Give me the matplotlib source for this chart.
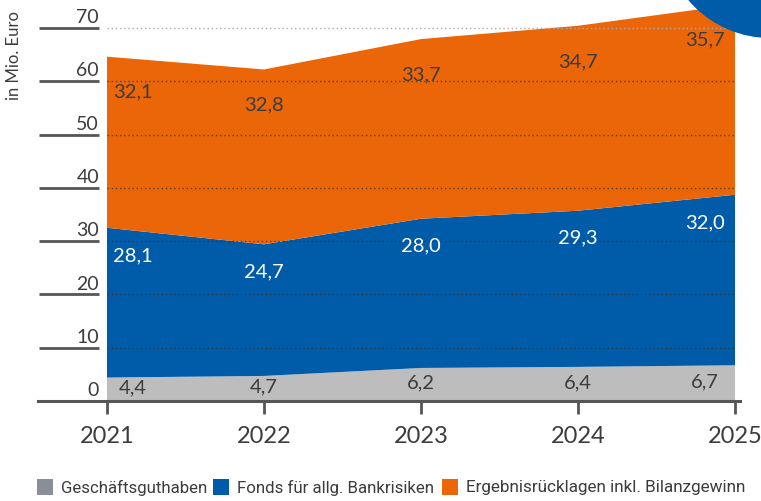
import matplotlib
matplotlib.use("Agg")
import matplotlib.pyplot as plt
from matplotlib.patches import Rectangle, Ellipse

# data (in Mio. Euro)
years = [2021, 2022, 2023, 2024, 2025]
geschaeftsguthaben = [4.4, 4.7, 6.2, 6.4, 6.7]
fonds = [28.1, 24.7, 28.0, 29.3, 32.0]
ergebnis = [32.1, 32.8, 33.7, 34.7, 35.7]
series_names = ["Geschäftsguthaben", "Fonds für allg. Bankrisiken",
                "Ergebnisrücklagen inkl. Bilanzgewinn"]
yticks = [0, 10, 20, 30, 40, 50, 60, 70]

c_gray = "#bdbdbd"
c_gray_leg = "#8a8f97"
c_blue = "#005ca9"
c_orange = "#ea6608"
c_text = "#3c3c3c"
c_axis = "#555555"

plt.rcParams['font.family'] = ['Lato', 'DejaVu Sans']

W, H = 761, 502
fig = plt.figure(figsize=(W / 100, H / 100), dpi=100)

# axes: left px 38 .. 740, bottom at px 402, top at 0
ax = fig.add_axes([38 / W, 1 - 402 / H, 702 / W, 402 / H])
px_per_year = 157.0
ax.set_xlim(2021 - (107 - 38) / px_per_year, 2025 + (740 - 735) / px_per_year)
ax.set_ylim(0, 402 / 5.33)

ax.stackplot(years, geschaeftsguthaben, fonds, ergebnis,
             colors=[c_gray, c_blue, c_orange], linewidth=0, zorder=1)

# dotted grid lines across the plot area
ax.hlines(yticks[1:-1], years[0], years[-1], colors="#333333",
          linestyles=(0, (1, 2)), linewidth=1, alpha=0.8, zorder=2)
ax.hlines([yticks[-1]], years[0], years[-1], colors="#aaaaaa",
          linestyles=(0, (1, 2)), linewidth=1, zorder=2)

# y tick labels with a short line below each
x0 = 2021 - (107 - 39) / px_per_year
x1 = 2021 - (107 - 99) / px_per_year
ax.hlines(yticks[1:], x0, x1, colors=c_axis, linewidth=2, clip_on=False, zorder=3)
for v in yticks:
    ax.text(x1, v + 1.1, str(v), ha="right", va="baseline", fontsize=14,
            color=c_text, zorder=4)

fig.text(14 / W, 1 - 55 / H, "in Mio. Euro", rotation=90, ha="center", va="center",
         fontsize=12, color=c_text)

# x axis
for s in ["top", "right", "left"]:
    ax.spines[s].set_visible(False)
ax.spines["bottom"].set_color(c_axis)
ax.spines["bottom"].set_linewidth(2.2)
ax.spines["bottom"].set_zorder(5)
ax.set_yticks([])
ax.set_xticks(years)
ax.set_xticklabels([str(y) for y in years])
ax.tick_params(axis="x", direction="out", length=9, width=2, color=c_axis,
               labelsize=17, labelcolor=c_text, pad=8)

# value labels
def xpos(i):
    if i == 0:
        return years[i] + 0.165
    if i == len(years) - 1:
        return years[i] - 0.19
    return years[i]

def fmt(v):
    return f"{v:.1f}".replace(".", ",")

for i in range(len(years)):
    g, b, o = geschaeftsguthaben[i], fonds[i], ergebnis[i]
    ax.text(xpos(i), g / 2 + 0.4, fmt(g), ha="center", va="center",
            fontsize=14.5, color=c_text, zorder=4)
    ax.text(xpos(i), g + b - 5, fmt(b), ha="center", va="center",
            fontsize=14.5, color="white", zorder=4)
    ax.text(xpos(i), g + b + o - 6.5, fmt(o), ha="center", va="center",
            fontsize=14.5, color=c_text, zorder=4)

# decorative circle top right
fig.patches.append(Ellipse((770 / W, 1 + 68 / H), 2 * 107 / W, 2 * 107 / H,
                           transform=fig.transFigure, facecolor=c_blue,
                           edgecolor="none", zorder=10))

# legend (narrow text: fit each label to its width in the reference)
leg_font = ['Roboto', 'DejaVu Sans']
leg_y = 1 - 488 / H
sq = 16
renderer = fig.canvas.get_renderer()
for xs, xt, xe, col, name in [(37, 61, 207, c_gray_leg, series_names[0]),
                              (213, 237, 435, c_blue, series_names[1]),
                              (442, 466, 747, c_orange, series_names[2])]:
    fig.patches.append(Rectangle((xs / W, (H - 496) / H), sq / W, sq / H,
                                 transform=fig.transFigure, facecolor=col,
                                 edgecolor="none"))
    t = fig.text(xt / W, leg_y, name, ha="left", va="center", fontsize=12.5,
                 color=c_text, family=leg_font)
    w = t.get_window_extent(renderer).width
    t.set_fontsize(min(13.0, 12.5 * (xe - xt) / w))

fig.savefig("out.png", dpi=100)
